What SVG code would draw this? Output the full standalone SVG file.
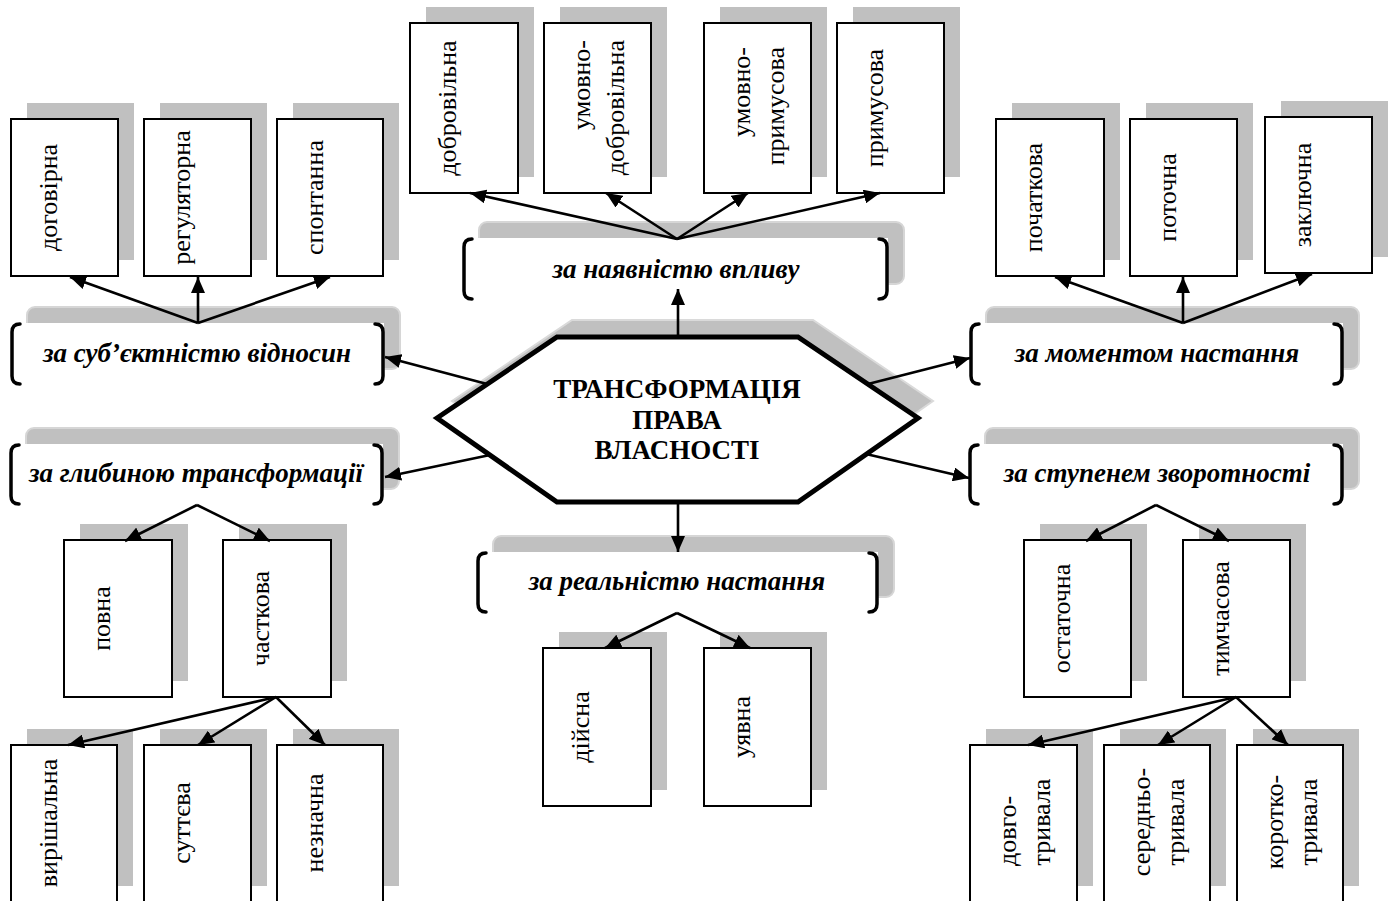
<svg xmlns="http://www.w3.org/2000/svg" width="1395" height="901" viewBox="0 0 1395 901">
<defs>
<style>
.sh{fill:#c0c0c0}
.csh{fill:#c0c0c0;stroke:#d6d6d6;stroke-width:2}
.box{fill:#fff;stroke:#000;stroke-width:2}
.cbg{fill:#fff}
.br{fill:none;stroke:#000;stroke-width:3.5;stroke-linecap:round}
.lt{font-family:"Liberation Serif","Times New Roman",serif;font-size:26px;fill:#000}
.ct{font-family:"Liberation Serif","Times New Roman",serif;font-size:27px;font-weight:bold;font-style:italic;fill:#000}
.ht{font-family:"Liberation Serif","Times New Roman",serif;font-size:27px;font-weight:bold;fill:#000}
.cn{fill:none;stroke:#000;stroke-width:2.6;marker-end:url(#ah)}
</style>
<marker id="ah" viewBox="0 0 16 14" refX="16" refY="7" markerWidth="16" markerHeight="14" markerUnits="userSpaceOnUse" orient="auto">
<path d="M0,0 L16,7 L0,14 z" fill="#000"/>
</marker>
</defs>
<rect width="1395" height="901" fill="#fff"/>

<!-- central hexagon -->
<g id="center">
<polygon points="452,401 572,320 813,320 933,401 813,485 572,485" fill="#c0c0c0" stroke="#dadada" stroke-width="2"/>
<polygon points="437,418 557,337 798,337 918,418 798,502 557,502" fill="#fff" stroke="#000" stroke-width="5" stroke-linejoin="miter"/>
<text class="ht" x="677" y="398" text-anchor="middle">ТРАНСФОРМАЦІЯ</text>
<text class="ht" x="677" y="429" text-anchor="middle">ПРАВА</text>
<text class="ht" x="677" y="459" text-anchor="middle">ВЛАСНОСТІ</text>
</g>

<!-- category nodes -->
<g id="cat-subjectness">
<rect class="csh" x="27" y="307" width="373" height="62" rx="8"/>
<rect class="cbg" x="11" y="323" width="373" height="62"/>
<path class="br" d="M20,324 Q12,324 12,332 V376 Q12,384 20,384"/>
<path class="br" d="M375,324 Q383,324 383,332 V376 Q383,384 375,384"/>
<text class="ct" x="197" y="362" text-anchor="middle">за суб’єктністю відносин</text>
</g>
<g id="cat-influence">
<rect class="csh" x="479" y="222" width="425" height="62" rx="8"/>
<rect class="cbg" x="463" y="238" width="425" height="62"/>
<path class="br" d="M472,239 Q464,239 464,247 V291 Q464,299 472,299"/>
<path class="br" d="M879,239 Q887,239 887,247 V291 Q887,299 879,299"/>
<text class="ct" x="676" y="278" text-anchor="middle">за наявністю впливу</text>
</g>
<g id="cat-moment">
<rect class="csh" x="986" y="307" width="373" height="62" rx="8"/>
<rect class="cbg" x="970" y="323" width="373" height="62"/>
<path class="br" d="M979,324 Q971,324 971,332 V376 Q971,384 979,384"/>
<path class="br" d="M1334,324 Q1342,324 1342,332 V376 Q1342,384 1334,384"/>
<text class="ct" x="1157" y="362" text-anchor="middle">за моментом настання</text>
</g>
<g id="cat-depth">
<rect class="csh" x="26" y="428" width="373" height="61" rx="8"/>
<rect class="cbg" x="10" y="444" width="373" height="61"/>
<path class="br" d="M19,445 Q11,445 11,453 V496 Q11,504 19,504"/>
<path class="br" d="M374,445 Q382,445 382,453 V496 Q382,504 374,504"/>
<text class="ct" x="196" y="482" text-anchor="middle">за глибиною трансформації</text>
</g>
<g id="cat-reversibility">
<rect class="csh" x="985" y="428" width="374" height="61" rx="8"/>
<rect class="cbg" x="969" y="444" width="374" height="61"/>
<path class="br" d="M978,445 Q970,445 970,453 V496 Q970,504 978,504"/>
<path class="br" d="M1334,445 Q1342,445 1342,453 V496 Q1342,504 1334,504"/>
<text class="ct" x="1157" y="482" text-anchor="middle">за ступенем зворотності</text>
</g>
<g id="cat-reality">
<rect class="csh" x="493" y="536" width="401" height="61" rx="8"/>
<rect class="cbg" x="477" y="552" width="401" height="61"/>
<path class="br" d="M486,553 Q478,553 478,561 V604 Q478,612 486,612"/>
<path class="br" d="M869,553 Q877,553 877,561 V604 Q877,612 869,612"/>
<text class="ct" x="677" y="590" text-anchor="middle">за реальністю настання</text>
</g>

<!-- leaf nodes: top-left -->
<g id="n-dohovirna"><rect class="sh" x="27" y="103" width="107" height="157"/><rect class="box" x="11" y="119" width="107" height="157"/><text class="lt" transform="translate(57,197.5) rotate(-90)" text-anchor="middle">договірна</text></g>
<g id="n-rehuliatorna"><rect class="sh" x="160" y="103" width="107" height="157"/><rect class="box" x="144" y="119" width="107" height="157"/><text class="lt" transform="translate(190,197.5) rotate(-90)" text-anchor="middle">регуляторна</text></g>
<g id="n-spontanna"><rect class="sh" x="293" y="103" width="106" height="157"/><rect class="box" x="277" y="119" width="106" height="157"/><text class="lt" transform="translate(323,197.5) rotate(-90)" text-anchor="middle">спонтанна</text></g>

<!-- leaf nodes: top-middle -->
<g id="n-dobrovilna"><rect class="sh" x="426" y="7" width="108" height="170"/><rect class="box" x="410" y="23" width="108" height="170"/><text class="lt" transform="translate(456,108) rotate(-90)" text-anchor="middle">добровільна</text></g>
<g id="n-umovno-dobrovilna"><rect class="sh" x="560" y="7" width="107" height="170"/><rect class="box" x="544" y="23" width="107" height="170"/><text class="lt" transform="translate(590,40) rotate(-90)" text-anchor="end">умовно-</text><text class="lt" transform="translate(624,40) rotate(-90)" text-anchor="end">добровільна</text></g>
<g id="n-umovno-prymusova"><rect class="sh" x="720" y="7" width="107" height="170"/><rect class="box" x="704" y="23" width="107" height="170"/><text class="lt" transform="translate(750,47) rotate(-90)" text-anchor="end">умовно-</text><text class="lt" transform="translate(784,47) rotate(-90)" text-anchor="end">примусова</text></g>
<g id="n-prymusova"><rect class="sh" x="853" y="7" width="107" height="170"/><rect class="box" x="837" y="23" width="107" height="170"/><text class="lt" transform="translate(883,108) rotate(-90)" text-anchor="middle">примусова</text></g>

<!-- leaf nodes: top-right -->
<g id="n-pochatkova"><rect class="sh" x="1012" y="103" width="108" height="157"/><rect class="box" x="996" y="119" width="108" height="157"/><text class="lt" transform="translate(1042,197.5) rotate(-90)" text-anchor="middle">початкова</text></g>
<g id="n-potochna"><rect class="sh" x="1146" y="103" width="107" height="157"/><rect class="box" x="1130" y="119" width="107" height="157"/><text class="lt" transform="translate(1176,197.5) rotate(-90)" text-anchor="middle">поточна</text></g>
<g id="n-zakliuchna"><rect class="sh" x="1281" y="101" width="107" height="156"/><rect class="box" x="1265" y="117" width="107" height="156"/><text class="lt" transform="translate(1311,195) rotate(-90)" text-anchor="middle">заключна</text></g>

<!-- leaf nodes: middle-left -->
<g id="n-povna"><rect class="sh" x="80" y="524" width="108" height="157"/><rect class="box" x="64" y="540" width="108" height="157"/><text class="lt" transform="translate(110,618.5) rotate(-90)" text-anchor="middle">повна</text></g>
<g id="n-chastkova"><rect class="sh" x="239" y="524" width="108" height="157"/><rect class="box" x="223" y="540" width="108" height="157"/><text class="lt" transform="translate(269,618.5) rotate(-90)" text-anchor="middle">часткова</text></g>

<!-- leaf nodes: middle-right -->
<g id="n-ostatochna"><rect class="sh" x="1040" y="524" width="107" height="157"/><rect class="box" x="1024" y="540" width="107" height="157"/><text class="lt" transform="translate(1070,618.5) rotate(-90)" text-anchor="middle">остаточна</text></g>
<g id="n-tymchasova"><rect class="sh" x="1199" y="524" width="107" height="157"/><rect class="box" x="1183" y="540" width="107" height="157"/><text class="lt" transform="translate(1229,618.5) rotate(-90)" text-anchor="middle">тимчасова</text></g>

<!-- leaf nodes: bottom-middle -->
<g id="n-diisna"><rect class="sh" x="559" y="632" width="108" height="158"/><rect class="box" x="543" y="648" width="108" height="158"/><text class="lt" transform="translate(589,727) rotate(-90)" text-anchor="middle">дійсна</text></g>
<g id="n-uiavna"><rect class="sh" x="720" y="632" width="107" height="158"/><rect class="box" x="704" y="648" width="107" height="158"/><text class="lt" transform="translate(750,727) rotate(-90)" text-anchor="middle">уявна</text></g>

<!-- leaf nodes: bottom-left -->
<g id="n-vyrishalna"><rect class="sh" x="27" y="729" width="106" height="157"/><rect class="box" x="11" y="745" width="106" height="160"/><text class="lt" transform="translate(57,823) rotate(-90)" text-anchor="middle">вирішальна</text></g>
<g id="n-suttieva"><rect class="sh" x="160" y="729" width="107" height="157"/><rect class="box" x="144" y="745" width="107" height="160"/><text class="lt" transform="translate(190,823) rotate(-90)" text-anchor="middle">суттєва</text></g>
<g id="n-neznachna"><rect class="sh" x="293" y="729" width="106" height="157"/><rect class="box" x="277" y="745" width="106" height="160"/><text class="lt" transform="translate(323,823) rotate(-90)" text-anchor="middle">незначна</text></g>

<!-- leaf nodes: bottom-right -->
<g id="n-dovhotryvala"><rect class="sh" x="986" y="729" width="107" height="157"/><rect class="box" x="970" y="745" width="107" height="160"/><text class="lt" transform="translate(1016,831) rotate(-90)" text-anchor="middle">довго-</text><text class="lt" transform="translate(1050,822) rotate(-90)" text-anchor="middle">тривала</text></g>
<g id="n-serednotryvala"><rect class="sh" x="1120" y="729" width="106" height="157"/><rect class="box" x="1104" y="745" width="106" height="160"/><text class="lt" transform="translate(1150,822) rotate(-90)" text-anchor="middle">середньо-</text><text class="lt" transform="translate(1184,822) rotate(-90)" text-anchor="middle">тривала</text></g>
<g id="n-korotkotryvala"><rect class="sh" x="1253" y="729" width="106" height="157"/><rect class="box" x="1237" y="745" width="106" height="160"/><text class="lt" transform="translate(1283,822) rotate(-90)" text-anchor="middle">коротко-</text><text class="lt" transform="translate(1317,822) rotate(-90)" text-anchor="middle">тривала</text></g>

<!-- connectors -->
<g id="connectors">
<line class="cn" x1="487" y1="384" x2="385" y2="357"/>
<line class="cn" x1="490" y1="455" x2="385" y2="477"/>
<line class="cn" x1="868" y1="384" x2="970" y2="358"/>
<line class="cn" x1="866" y1="454" x2="969" y2="478"/>
<line class="cn" x1="678" y1="337" x2="678" y2="289"/>
<line class="cn" x1="678" y1="502" x2="678" y2="552"/>

<line class="cn" x1="198" y1="323" x2="70" y2="277"/>
<line class="cn" x1="198" y1="323" x2="198" y2="277"/>
<line class="cn" x1="198" y1="323" x2="330" y2="277"/>

<line class="cn" x1="677" y1="239" x2="470" y2="193"/>
<line class="cn" x1="677" y1="239" x2="606" y2="193"/>
<line class="cn" x1="677" y1="239" x2="748" y2="193"/>
<line class="cn" x1="677" y1="239" x2="880" y2="193"/>

<line class="cn" x1="1183" y1="323" x2="1055" y2="277"/>
<line class="cn" x1="1183" y1="323" x2="1183" y2="277"/>
<line class="cn" x1="1183" y1="323" x2="1312" y2="274"/>

<line class="cn" x1="197" y1="505" x2="125" y2="541"/>
<line class="cn" x1="197" y1="505" x2="270" y2="541"/>

<line class="cn" x1="276" y1="697" x2="68" y2="745"/>
<line class="cn" x1="276" y1="697" x2="198" y2="745"/>
<line class="cn" x1="276" y1="697" x2="325" y2="745"/>

<line class="cn" x1="1156" y1="505" x2="1086" y2="541"/>
<line class="cn" x1="1156" y1="505" x2="1229" y2="541"/>

<line class="cn" x1="1236" y1="697" x2="1028" y2="745"/>
<line class="cn" x1="1236" y1="697" x2="1158" y2="745"/>
<line class="cn" x1="1236" y1="697" x2="1288" y2="745"/>

<line class="cn" x1="677" y1="613" x2="605" y2="648"/>
<line class="cn" x1="677" y1="613" x2="750" y2="648"/>
</g>
</svg>
